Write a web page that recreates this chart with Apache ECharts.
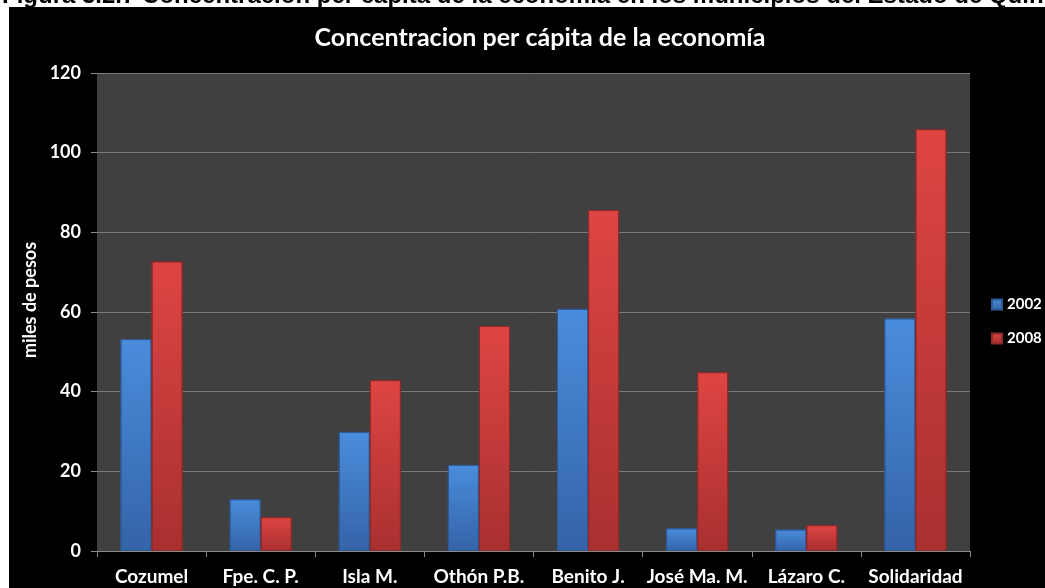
<!DOCTYPE html>
<html>
<head>
<meta charset="utf-8">
<script src="https://cdn.jsdelivr.net/npm/echarts@6/dist/echarts.min.js"></script>
<style>
  html, body { margin: 0; padding: 0; background: #fff; }
  #chart { width: 1045px; height: 588px; }
</style>
</head>
<body>
<div id="chart"></div>
<script>
// municipios y valores (miles de pesos)
const municipios = ['Cozumel', 'Fpe. C. P.', 'Isla M.', 'Othón P.B.', 'Benito J.', 'José Ma. M.', 'Lázaro C.', 'Solidaridad'];
const serie2002 = [53.2, 13.0, 29.9, 21.6, 60.8, 5.7, 5.4, 58.4];
const serie2008 = [72.7, 8.5, 42.9, 56.5, 85.6, 44.9, 6.5, 105.9];
const yTicks = { min: 0, max: 120, interval: 20 };

const chart = echarts.init(document.getElementById('chart'));
const font = 'Lato, "Open Sans", sans-serif';

const blueFill = new echarts.graphic.LinearGradient(0, 0, 0, 1, [
  { offset: 0, color: '#4a8ddc' },
  { offset: 1, color: '#3463a8' }
]);
const redFill = new echarts.graphic.LinearGradient(0, 0, 0, 1, [
  { offset: 0, color: '#de4544' },
  { offset: 1, color: '#a8302f' }
]);

chart.setOption({
  backgroundColor: '#ffffff',
  textStyle: { fontFamily: font },
  graphic: [
    {
      type: 'rect', z: -10, silent: true,
      shape: { x: 9, y: 7, width: 1036, height: 581 },
      style: { fill: '#000' }
    },
    {
      type: 'text', z: -20, silent: true, left: 2, top: -16,
      style: {
        text: 'Figura 3.2.7 Concentración per cápita de la economía en los municipios del Estado de Quintana Roo',
        fill: '#000', font: 'bold 24px "Liberation Sans", Arial, sans-serif'
      }
    }
  ],
  title: {
    text: 'Concentracion per cápita de la economía',
    left: 535, top: 20, textAlign: 'center',
    textStyle: { color: '#fff', fontSize: 25, fontWeight: 'bold', fontFamily: font }
  },
  legend: {
    orient: 'vertical',
    left: 986, top: 292,
    itemWidth: 10, itemHeight: 10, itemGap: 19,
    icon: 'rect',
    textStyle: { color: '#fff', fontSize: 15, fontWeight: 'bold', fontFamily: font },
    data: ['2002', '2008']
  },
  grid: {
    left: 97, right: 75, top: 73, bottom: 37,
    show: true, backgroundColor: '#404040', borderWidth: 0
  },
  xAxis: {
    type: 'category',
    data: municipios,
    axisLine: { lineStyle: { color: '#8a8a8a', width: 1 } },
    axisTick: { show: true, length: 6, lineStyle: { color: '#8a8a8a' } },
    axisLabel: { color: '#fff', fontSize: 19, fontWeight: 'bold', margin: 16, interval: 0, fontFamily: font }
  },
  yAxis: {
    type: 'value',
    min: yTicks.min, max: yTicks.max, interval: yTicks.interval,
    name: 'miles de pesos',
    nameLocation: 'middle',
    nameGap: 56,
    nameTextStyle: { color: '#fff', fontSize: 18, fontWeight: 'bold', fontFamily: font, padding: [0, 0, 0, 24] },
    axisLine: { show: false },
    axisTick: { show: true, length: 6, lineStyle: { color: '#8a8a8a' } },
    splitLine: { lineStyle: { color: '#7a7a7a', width: 1 } },
    axisLabel: { color: '#fff', fontSize: 18, fontWeight: 'bold', margin: 16, fontFamily: font }
  },
  series: [
    {
      name: '2002', type: 'bar', data: serie2002,
      barGap: '0%', barCategoryGap: '43%',
      itemStyle: { color: blueFill, borderColor: '#2f5a96', borderWidth: 1 }
    },
    {
      name: '2008', type: 'bar', data: serie2008,
      itemStyle: { color: redFill, borderColor: '#8e2a29', borderWidth: 1 }
    }
  ]
});
</script>
</body>
</html>
